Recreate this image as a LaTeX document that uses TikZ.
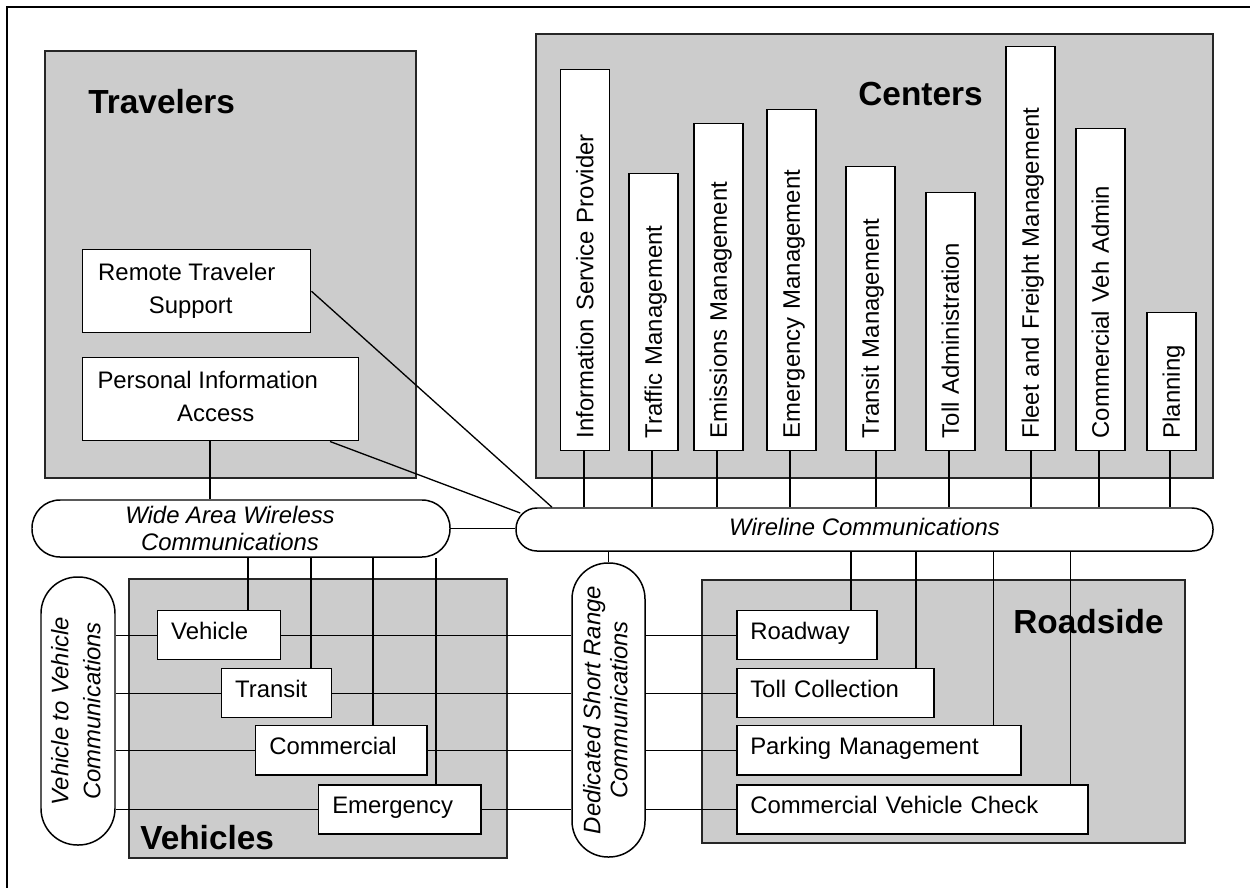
\documentclass[tikz,border=0pt]{standalone}
\usepackage{fontspec}
\usepackage{graphicx}
\setmainfont{Liberation Sans}
\usetikzlibrary{calc}
\newlength{\pxu}\setlength{\pxu}{0.02cm}
\definecolor{grpgray}{RGB}{204,204,204}
\pgfdeclarelayer{grp}\pgfdeclarelayer{lnk}\pgfsetlayers{grp,lnk,main}
\begin{document}
\begin{tikzpicture}[x=0.02cm,y=-0.02cm,
  every node/.style={font=\fontsize{13.6}{15.3}\selectfont},
  grp/.style={draw=black!85, fill=grpgray, line width=1.1pt, anchor=north west, inner sep=0pt},
  gtitle/.style={anchor=base west, inner sep=0pt, font=\fontsize{19}{22}\selectfont\bfseries},
  wbox/.style={draw, fill=white, line width=0.85pt, inner ysep=0pt},
  lbox/.style={wbox, anchor=north west, align=left, inner xsep=13.5\pxu, minimum height=49\pxu, text height=11.3pt, text depth=6.8pt},
  vbox/.style={wbox, rotate=90, anchor=west, align=left, inner xsep=12\pxu, minimum height=49\pxu, text height=12.2pt, text depth=2.7pt},
  tbox/.style={wbox, anchor=north west, align=center, minimum height=83\pxu, font=\fontsize{13.6}{18.7}\selectfont},
  pill/.style={draw, fill=white, line width=0.85pt, inner sep=0pt, align=center, font=\fontsize{13.6}{15.3}\selectfont\itshape},
  link/.style={line width=0.75pt}]
\useasboundingbox (0,0) rectangle (1250,888);

% outer frame (right and bottom edges lie outside the picture)
\draw[line width=0.75pt] (7,888) -- (7,7) -- (1250,7);

% group boxes
\begin{pgfonlayer}{grp}
\node[grp, minimum width=371\pxu, minimum height=427\pxu] (trav) at (44,50) {};
\node[grp, minimum width=677\pxu, minimum height=444\pxu] (cent) at (535,33) {};
\node[grp, minimum width=378\pxu, minimum height=279\pxu] (vehg) at (128,578) {};
\node[grp, minimum width=483\pxu, minimum height=263\pxu] (roadg) at (701,579) {};
\node[gtitle] (travt) at (88,114) {Travelers};
\node[gtitle] (centt) at (858,106) {Centers};
\node[gtitle] (veht) at (140,849) {Vehicles};
\node[gtitle] (roadt) at (1013,633) {Roadside};
\end{pgfonlayer}

% travelers
\node[tbox, minimum width=228\pxu] (rts) at (82,249) {Remote Traveler\hspace*{20\pxu}\\Support\hspace*{12\pxu}\vphantom{p}};
\node[tbox, minimum width=276\pxu] (pia) at (82,357) {Personal Information\hspace*{26\pxu}\\Access\hspace*{10\pxu}\vphantom{p}};

% centers
\node[vbox, text width=357\pxu] (isp) at (585,451) {Information Service Provider};
\node[vbox, text width=253\pxu] (traf) at (653.5,451) {Traffic Management};
\node[vbox, text width=303\pxu] (emis) at (718.5,451) {Emissions Management};
\node[vbox, text width=317\pxu] (emer) at (791.5,451) {Emergency Management};
\node[vbox, text width=260\pxu] (tran) at (870.5,451) {Transit Management};
\node[vbox, text width=234\pxu] (toll) at (950.5,451) {Toll Administration};
\node[vbox, text width=380\pxu] (fleet) at (1030.5,451) {Fleet and Freight Management};
\node[vbox, text width=298\pxu] (cva) at (1100.5,451) {Commercial Veh Admin};
\node[vbox, text width=114\pxu] (plan) at (1171.5,451) {Planning};

% communications
\node[pill, minimum width=418\pxu, minimum height=57\pxu, rounded corners=28\pxu] (waw) at (241,528.5)
  {Wide Area Wireless\hspace*{22\pxu}\\Communications\hspace*{22\pxu}};
\node[pill, minimum width=697\pxu, minimum height=43\pxu, rounded corners=21\pxu] (wl) at (864.5,529.5)
  {Wireline Communications\vphantom{g}};
\node[pill, minimum width=74\pxu, minimum height=268\pxu, rounded corners=36.5\pxu,
  font=\fontsize{13.6}{18.1}\selectfont\itshape] (v2v) at (78,711)
  {\rotatebox{90}{\begin{tabular}{@{}c@{}}Vehicle to Vehicle\\Communications\end{tabular}}};
\node[pill, minimum width=73\pxu, minimum height=294\pxu, rounded corners=36\pxu] (dsrc) at (608.5,710)
  {\rotatebox{90}{\begin{tabular}{@{}c@{}}Dedicated Short Range\\Communications\end{tabular}}};

% vehicles
\node[lbox, text width=96\pxu] (veh) at (157,610) {Vehicle};
\node[lbox, text width=83\pxu] (tra) at (221,668) {Transit};
\node[lbox, text width=144\pxu] (com) at (255,725) {Commercial};
\node[lbox, text width=135\pxu] (emg) at (318,784) {Emergency};

% roadside
\node[lbox, text width=113\pxu] (road) at (736,610) {Roadway};
\node[lbox, text width=170\pxu] (tcol) at (736,668) {Toll Collection};
\node[lbox, text width=257\pxu] (park) at (736,725) {Parking Management};
\node[lbox, text width=324\pxu] (cvc) at (736,784) {Commercial Vehicle Check};

% connectors
\begin{pgfonlayer}{lnk}
\draw[link] (210,0 |- pia.south) -- (210,0 |- waw.north);
\draw[link] (rts.east) -- (552,0 |- wl.north);
\draw[link] (330,0 |- pia.south) -- ($(wl.west)+(5,-16.5)$);
\draw[link] (waw.east) -- (waw.east -| wl.west);
\foreach \n/\xx in {isp/584,traf/652,emis/717,emer/790,tran/876,toll/949,fleet/1031,cva/1099,plan/1170}
  \draw[link] (\xx,0 |- \n.west) -- (\xx,0 |- wl.north);
\draw[link] (dsrc.north) -- (dsrc.north |- wl.south);
\foreach \n/\xx in {veh/248,tra/311,com/373,emg/436}
  \draw[link] (\xx,0 |- waw.south) -- (\xx,0 |- \n.north);
\foreach \n/\xx in {road/851,tcol/916,park/993.5,cvc/1070.6}
  \draw[link] (\xx,0 |- wl.south) -- (\xx,0 |- \n.north);
\foreach \v/\r in {veh/road,tra/tcol,com/park,emg/cvc}{
  \draw[link] (v2v.east |- \v.west) -- (\v.west);
  \draw[link] (\v.east) -- (dsrc.west |- \v.east);
  \draw[link] (dsrc.east |- \v.east) -- (\r.west |- \v.east);
}
\end{pgfonlayer}
\end{tikzpicture}
\end{document}
